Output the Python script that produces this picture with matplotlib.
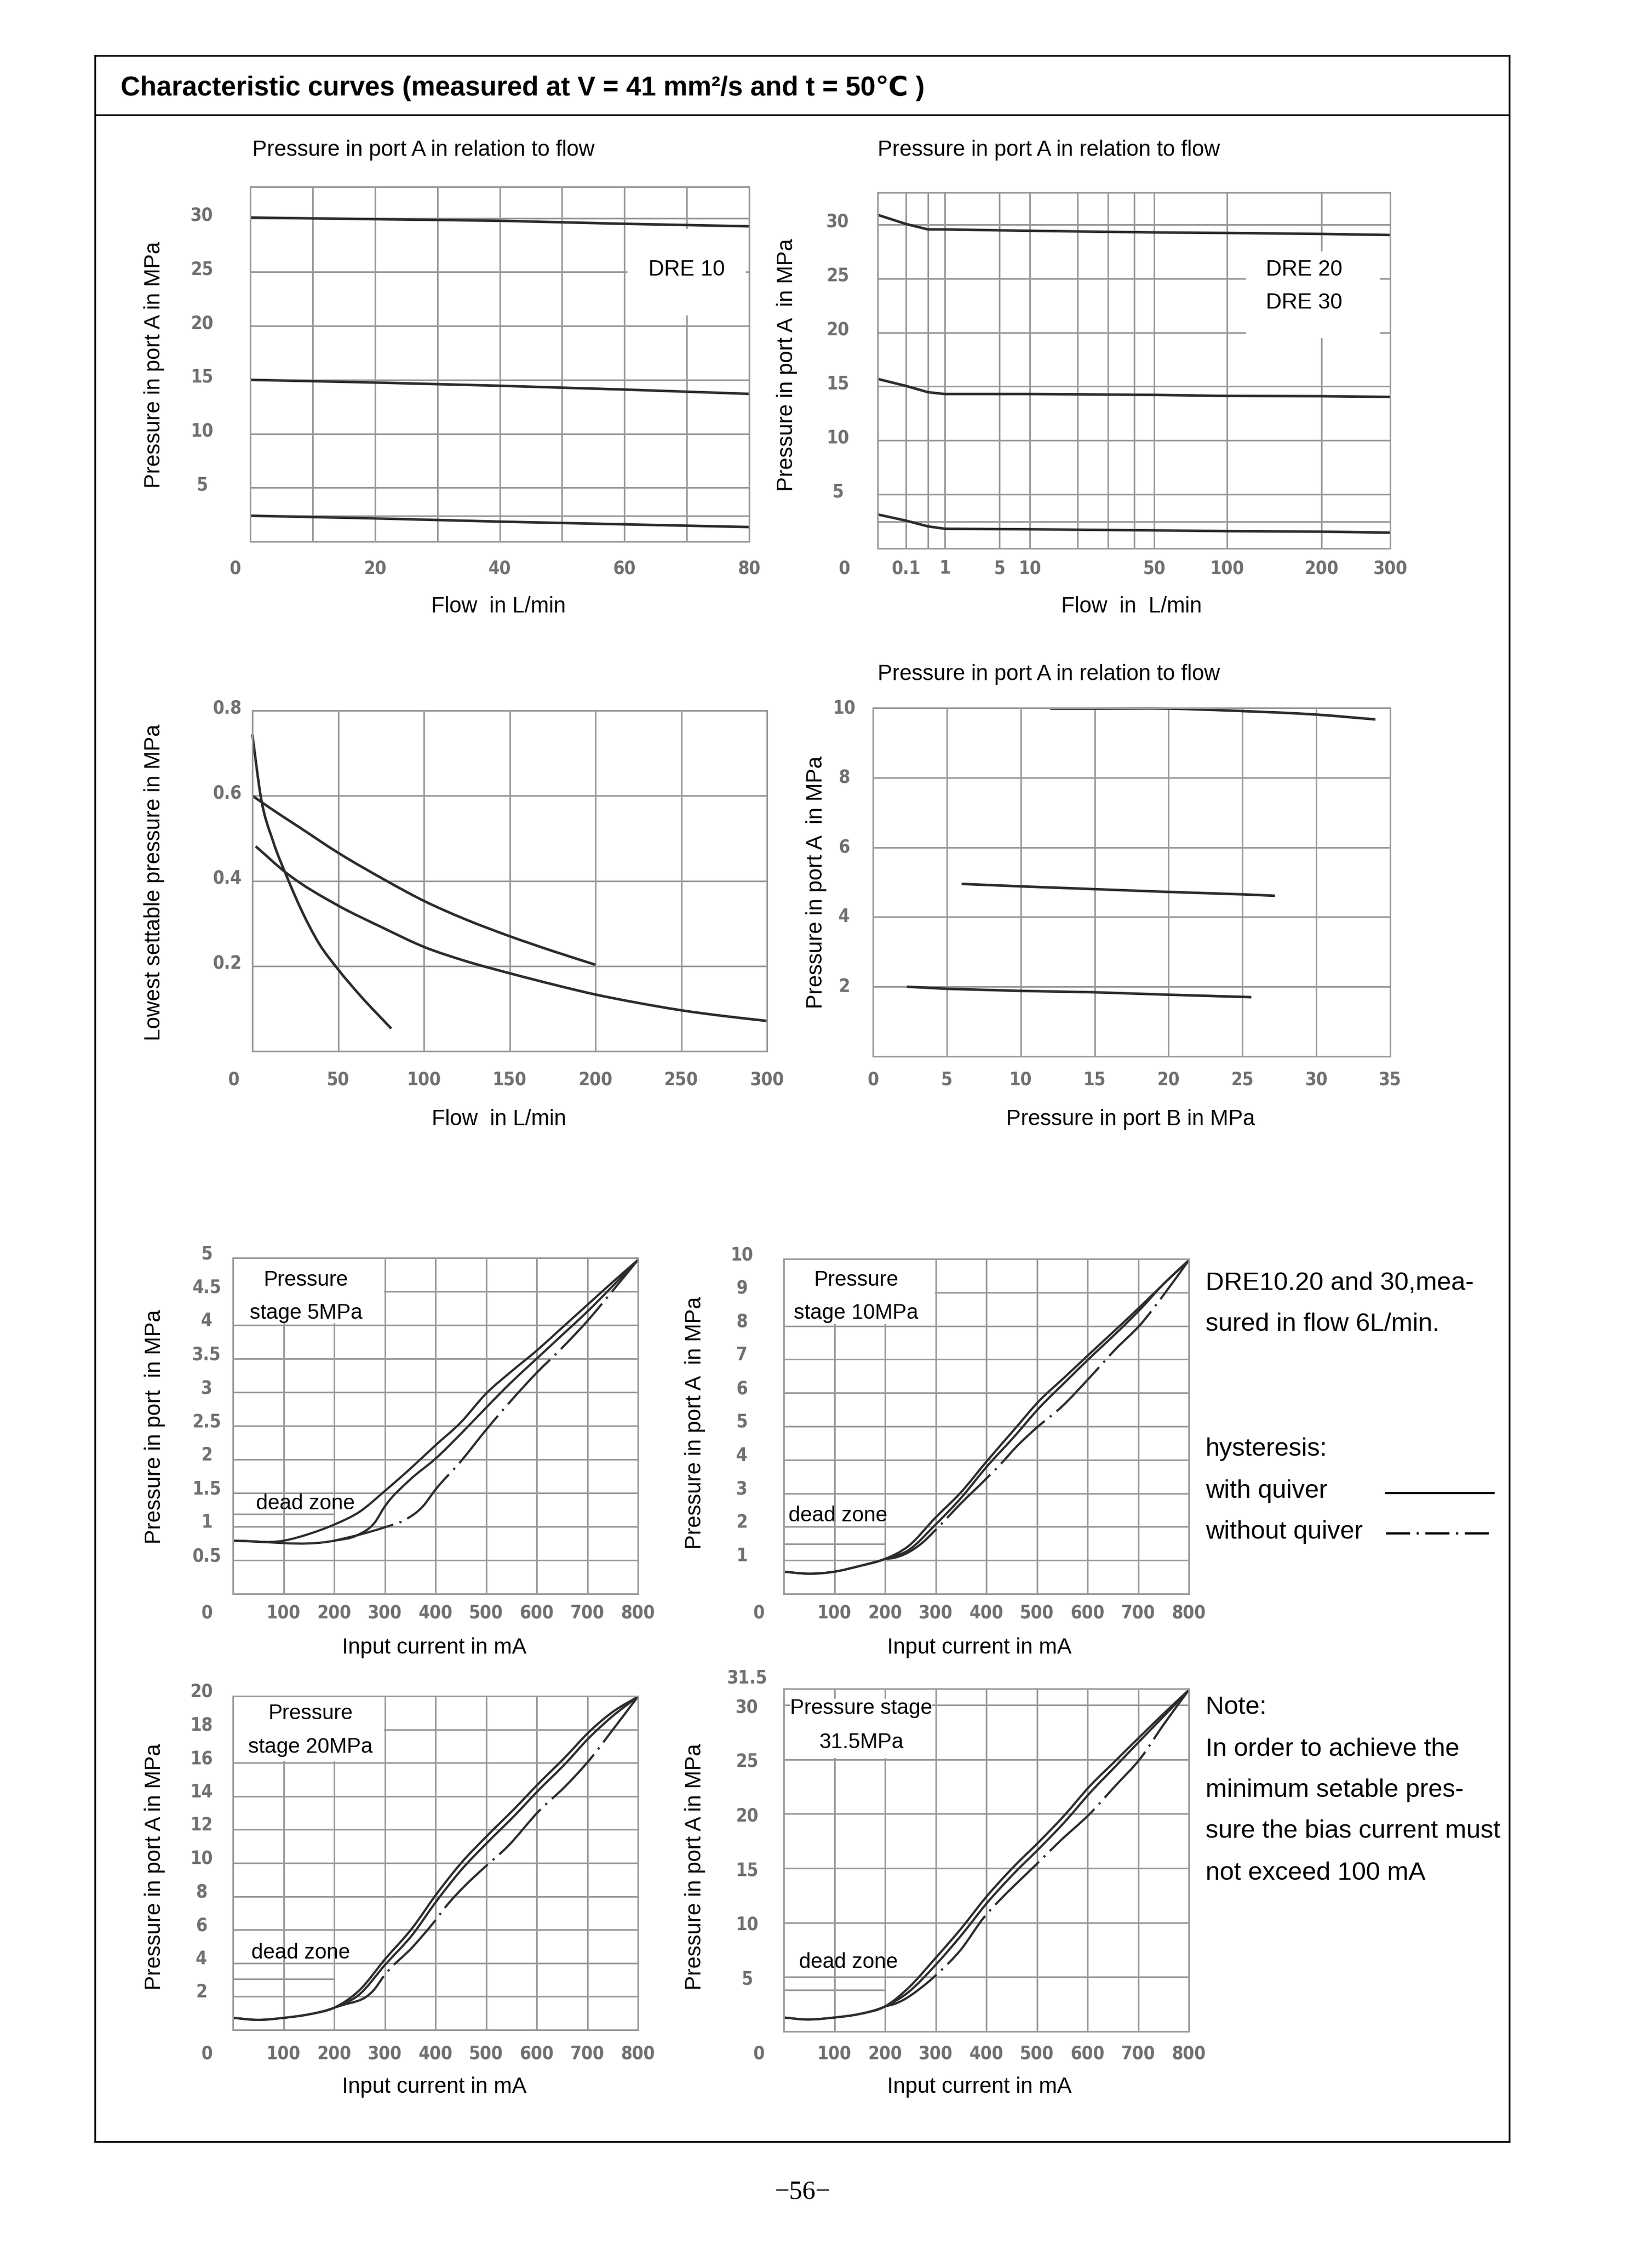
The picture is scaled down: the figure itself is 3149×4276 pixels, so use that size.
import numpy as np
import matplotlib
matplotlib.use("Agg")
import matplotlib.pyplot as plt
import matplotlib.transforms as mtransforms
from matplotlib import font_manager
from matplotlib.lines import Line2D
from matplotlib.patches import Rectangle, PathPatch
from matplotlib.path import Path

W, H, DPI = 3149, 4276, 100

# ---------------- values ----------------
# DRE 10: pressure in port A vs flow, three settings
dre10_flow = [0, 20, 40, 60, 80]
dre10_p30 = [30.05, 29.9, 29.75, 29.47, 29.24]
dre10_p15 = [15.0, 14.75, 14.45, 14.1, 13.7]
dre10_p2 = [2.4, 2.15, 1.85, 1.6, 1.35]

# DRE 20 / DRE 30
dre20_flow = [0, 0.1, 0.5, 1, 10, 50, 100, 200, 300]
dre20_p30 = [30.9, 30.05, 29.55, 29.55, 29.42, 29.27, 29.22, 29.13, 29.03]
dre20_p15 = [15.7, 15.05, 14.47, 14.3, 14.3, 14.22, 14.12, 14.1, 14.03]
dre20_p2 = [3.15, 2.57, 2.04, 1.82, 1.77, 1.67, 1.6, 1.55, 1.46]

# lowest settable pressure vs flow
low_a_flow = [0, 5, 12, 20, 29, 39, 50, 63, 81]
low_a_p = [0.744, 0.596, 0.494, 0.411, 0.328, 0.252, 0.192, 0.13, 0.053]
low_b_flow = [0, 10, 27, 50, 76, 100, 124, 150, 176, 200]
low_b_p = [0.6, 0.572, 0.527, 0.466, 0.405, 0.353, 0.31, 0.27, 0.234, 0.203]
low_c_flow = [2, 20, 50, 76, 100, 124, 150, 176, 200, 224, 250, 276, 300]
low_c_p = [0.481, 0.418, 0.342, 0.29, 0.245, 0.212, 0.183, 0.156, 0.133,
           0.114, 0.096, 0.082, 0.071]

# pressure in port A vs pressure in port B
pb_hi = [12, 15, 20, 25, 30, 34]
pa_hi = [9.98, 9.98, 9.98, 9.91, 9.81, 9.67]
pb_mid = [6, 10, 15, 20, 25, 27.2]
pa_mid = [4.95, 4.88, 4.8, 4.72, 4.65, 4.61]
pb_lo = [2.3, 5, 10, 15, 20, 25.6]
pa_lo = [2.0, 1.94, 1.88, 1.84, 1.77, 1.70]

# hysteresis, pressure stage 5 MPa (input current in mA)
s5_up_i = [0, 100, 150, 200, 250, 300, 350, 400, 450, 500, 550, 600, 650, 700, 750, 800]
s5_up_p = [0.79, 0.79, 0.89, 1.03, 1.22, 1.53, 1.86, 2.21, 2.55, 2.98, 3.31, 3.62, 3.96, 4.30, 4.64, 4.97]
s5_mid_i = [0, 200, 245, 280, 300, 350, 400, 450, 500, 550, 600, 650, 700, 750, 800]
s5_mid_p = [0.79, 0.79, 0.87, 1.06, 1.30, 1.70, 2.01, 2.38, 2.77, 3.15, 3.50, 3.85, 4.20, 4.58, 4.97]
s5_dd_i = [200, 255, 300, 340, 375, 400, 450, 500, 550, 600, 650, 700, 750, 800]
s5_dd_p = [0.79, 0.89, 0.99, 1.10, 1.30, 1.55, 1.97, 2.44, 2.88, 3.29, 3.66, 4.06, 4.51, 4.97]

# pressure stage 10 MPa
s10_i = [0, 50, 100, 150, 200, 245, 300, 350, 400, 455, 505, 555, 605, 655, 705, 750, 800]
s10_up_p = [0.66, 0.6, 0.66, 0.83, 1.04, 1.41, 2.28, 3.03, 3.94, 4.90, 5.77, 6.47, 7.18, 7.88, 8.59, 9.25, 9.96]
s10_mid_p = [0.66, 0.6, 0.66, 0.83, 1.04, 1.29, 2.07, 2.86, 3.78, 4.69, 5.56, 6.31, 7.05, 7.76, 8.51, 9.25, 9.96]
s10_dd_i = [200, 220, 275, 300, 350, 400, 430, 460, 495, 550, 605, 655, 705, 750, 800]
s10_dd_p = [1.04, 1.08, 1.54, 1.91, 2.70, 3.44, 3.90, 4.40, 4.90, 5.60, 6.47, 7.30, 8.05, 8.92, 9.96]

# pressure stage 20 MPa
s20_i = [0, 50, 100, 150, 200, 250, 300, 355, 400, 450, 505, 555, 605, 655, 705, 750, 800]
s20_up_p = [0.72, 0.6, 0.72, 0.93, 1.33, 2.38, 4.22, 6.13, 8.05, 9.97, 11.72, 13.22, 14.8, 16.3, 17.9, 19.05, 19.97]
s20_mid_p = [0.72, 0.6, 0.72, 0.93, 1.33, 2.13, 3.88, 5.72, 7.63, 9.55, 11.3, 12.8, 14.4, 15.9, 17.55, 18.8, 19.97]
s20_dd_i = [200, 215, 278, 300, 355, 395, 425, 458, 493, 542, 605, 655, 705, 750, 800]
s20_dd_p = [1.33, 1.47, 2.38, 3.3, 4.97, 6.38, 7.55, 8.63, 9.63, 10.97, 13.13, 14.55, 16.2, 17.97, 19.97]

# pressure stage 31.5 MPa
s31_i = [0, 45, 100, 150, 200, 245, 300, 350, 400, 455, 505, 555, 605, 655, 705, 750, 800]
s31_up_p = [1.28, 1.1, 1.28, 1.61, 2.30, 3.95, 6.76, 9.44, 12.37, 15.18, 17.47, 19.9, 22.58, 24.87, 27.17, 29.2, 31.38]
s31_mid_p = [1.28, 1.1, 1.28, 1.61, 2.30, 3.57, 6.12, 8.8, 11.73, 14.54, 16.84, 19.26, 21.94, 24.36, 26.79, 28.95, 31.38]
s31_dd_i = [200, 220, 280, 305, 350, 395, 425, 455, 495, 545, 605, 655, 705, 750, 800]
s31_dd_p = [2.30, 2.55, 4.34, 5.36, 7.53, 10.46, 12.0, 13.39, 15.18, 17.47, 20.03, 22.58, 25.13, 28.19, 31.38]

# dead zone marker level per stage (drawn from 0 to 200 mA)
dead_zone = [1.19, 1.49, 3.05, 3.83]
dead_zone_end = 200

# tick labels
cur_ticks = [0, 100, 200, 300, 400, 500, 600, 700, 800]
flow80_ticks = [0, 20, 40, 60, 80]
flow300_ticks = [0, 0.1, 1, 5, 10, 50, 100, 200, 300]
flow300_labels = ["0", "0.1", "1", "5", "10", "50", "100", "200", "300"]
low_flow_ticks = [0, 50, 100, 150, 200, 250, 300]
pb_ticks = [0, 5, 10, 15, 20, 25, 30, 35]
p30_ticks = [5, 10, 15, 20, 25, 30]
low_p_ticks = [0.2, 0.4, 0.6, 0.8]
pa10_ticks = [2, 4, 6, 8, 10]
s5_ticks = [0.5, 1, 1.5, 2, 2.5, 3, 3.5, 4, 4.5, 5]
s10_ticks = [1, 2, 3, 4, 5, 6, 7, 8, 9, 10]
s20_ticks = [2, 4, 6, 8, 10, 12, 14, 16, 18, 20]
s31_ticks = [5, 10, 15, 20, 25, 30, 31.5]

# ---------------- styling ----------------
plt.rcParams["font.family"] = ["Liberation Sans", "DejaVu Sans"]
GRID = "#9a9a9a"
GRID_LW = 2.2
INK = "#2c2c2c"
DASHDOT = (0, (28, 3, 1, 3))

names = {f.name for f in font_manager.fontManager.ttflist}
if "Liberation Sans Narrow" in names:
    TICK = dict(family="Liberation Sans Narrow", fontsize=27, color="#707070", weight="bold")
else:
    TICK = dict(family="DejaVu Sans", stretch="condensed", fontsize=25, color="#707070", weight="bold")

fig = plt.figure(figsize=(W / DPI, H / DPI), dpi=DPI)
fig.patch.set_facecolor("white")


def fx(x):
    return x / W


def fy(y):
    return 1 - y / H


def put(x, y, s, size=30, ha="center", va="center", **kw):
    fig.text(fx(x), fy(y), s, fontsize=size, ha=ha, va=va, **kw)


def panel(box, xlim, ylim, xgrid, ygrid, xscale=None):
    l, t, r, b = box
    ax = fig.add_axes([l / W, 1 - b / H, (r - l) / W, (b - t) / H])
    if xscale is not None:
        ax.set_xscale("function", functions=xscale)
    ax.set_xlim(*xlim)
    ax.set_ylim(*ylim)
    ax.set_xticks(xgrid)
    ax.set_yticks(ygrid)
    ax.tick_params(length=0, labelbottom=False, labelleft=False)
    ax.grid(True, color=GRID, lw=GRID_LW)
    ax.set_axisbelow(True)
    for sp in ax.spines.values():
        sp.set_color(GRID)
        sp.set_linewidth(GRID_LW)
    return ax


def xnums(ax, vals, texts, dy, zero_dx=0):
    base = mtransforms.blended_transform_factory(ax.transData, ax.transAxes)
    for v, s in zip(vals, texts):
        dx = -zero_dx if v == 0 else 0
        tr = mtransforms.offset_copy(base, fig=fig, x=dx / DPI, y=-dy / DPI, units="inches")
        ax.text(v, 0, s, transform=tr, ha="center", va="center", clip_on=False, **TICK)


def ynums(ax, vals, texts, dx, lift=0):
    base = mtransforms.blended_transform_factory(ax.transAxes, ax.transData)
    for v, s in zip(vals, texts):
        tr = mtransforms.offset_copy(base, fig=fig, x=-dx / DPI, y=lift / DPI, units="inches")
        ax.text(0, v, s, transform=tr, ha="center", va="center", clip_on=False, **TICK)


def mask(ax, x0, x1, y0, y1):
    ax.add_patch(Rectangle((x0, y0), x1 - x0, y1 - y0, fc="white", ec="none", zorder=1))


def curve(ax, x, y, lw=3.5, ls="-", smooth=False):
    if not smooth:
        ax.plot(x, y, color=INK, lw=lw, ls=ls, zorder=2, clip_on=False,
                solid_capstyle="butt", dash_capstyle="butt")
        return
    # cubic Hermite through the read points, drawn as Bezier segments
    x = np.asarray(x, float)
    y = np.asarray(y, float)
    m = np.gradient(y, x)
    verts = [(x[0], y[0])]
    codes = [Path.MOVETO]
    for i in range(len(x) - 1):
        h = x[i + 1] - x[i]
        verts += [(x[i] + h / 3, y[i] + m[i] * h / 3),
                  (x[i + 1] - h / 3, y[i + 1] - m[i + 1] * h / 3),
                  (x[i + 1], y[i + 1])]
        codes += [Path.CURVE4] * 3
    ax.add_patch(PathPatch(Path(verts, codes), fill=False, ec=INK, lw=lw, ls=ls,
                           zorder=2, clip_on=False, capstyle="butt"))


def fmt(v):
    return "%g" % v


# ---------------- page frame ----------------
L, R, T, B = 181, 2877, 106, 4081
for xs, ys in [((L, R), (T, T)), ((L, R), (B, B)), ((L, L), (T, B)),
               ((R, R), (T, B)), ((L, R), (219, 219))]:
    fig.add_artist(Line2D([fx(v) for v in xs], [fy(v) for v in ys],
                          color="black", lw=2.4, solid_capstyle="projecting"))
put(230, 168, "Characteristic curves (measured at V = 41 mm\u00b2/s and t = 50\u2103 )",
    size=37, ha="left", weight="bold")
put(1530, 4177, "\u221256\u2212", size=36, family="Liberation Serif")

# ---------------- 1: DRE 10 ----------------
ax = panel((477, 356, 1428, 1032), (0, 80), (0, 32.9),
           [10, 20, 30, 40, 50, 60, 70], [2.4, 5, 10, 15, 20, 25, 30])
mask(ax, 60.5, 79.5, 21, 29)
for p in (dre10_p30, dre10_p15, dre10_p2):
    curve(ax, dre10_flow, p)
xnums(ax, flow80_ticks, [fmt(v) for v in flow80_ticks], 51, zero_dx=29)
ynums(ax, p30_ticks, [fmt(v) for v in p30_ticks], 92, lift=5)
put(481, 286, "Pressure in port A in relation to flow", ha="left")
put(294, 695, "Pressure in port A in MPa", rotation=90)
put(950, 1156, "Flow  in L/min")
put(1309, 514, "DRE 10")

# ---------------- 2: DRE 20 / 30 (stretched flow axis) ----------------
flow_marks = [0, 0.1, 0.5, 1, 5, 10, 20, 30, 40, 50, 100, 200, 300]
mark_px = [0, 54, 96, 128, 232, 290, 381, 439, 489, 527, 666, 846, 977]
flow_scale = (lambda v: np.interp(v, flow_marks, mark_px),
              lambda u: np.interp(u, mark_px, flow_marks))
ax = panel((1673, 367, 2650, 1045), (0, 300), (0, 32.96),
           flow_marks[1:-1], [2.5, 5, 10, 15, 20, 25, 30], xscale=flow_scale)
mask(ax, 120, 285, 19.5, 27.5)
for p in (dre20_p30, dre20_p15, dre20_p2):
    curve(ax, dre20_flow, p)
xnums(ax, flow300_ticks, flow300_labels, 38, zero_dx=64)
ynums(ax, p30_ticks, [fmt(v) for v in p30_ticks], 76, lift=5)
put(1673, 286, "Pressure in port A in relation to flow", ha="left")
put(1500, 695, "Pressure in port A  in MPa", rotation=90)
put(2157, 1156, "Flow  in  L/min")
put(2486, 514, "DRE 20")
put(2486, 577, "DRE 30")

# ---------------- 3: lowest settable pressure ----------------
ax = panel((481, 1354, 1462, 2003), (0, 300), (0, 0.8),
           [50, 100, 150, 200, 250], [0.2, 0.4, 0.6])
curve(ax, low_a_flow, low_a_p, smooth=True)
curve(ax, low_b_flow, low_b_p, smooth=True)
curve(ax, low_c_flow, low_c_p, smooth=True)
xnums(ax, low_flow_ticks, [fmt(v) for v in low_flow_ticks], 54, zero_dx=36)
ynums(ax, low_p_ticks, [fmt(v) for v in low_p_ticks], 48, lift=5)
put(294, 1681, "Lowest settable pressure in MPa", rotation=90)
put(951, 2133, "Flow  in L/min")

# ---------------- 4: port A vs port B ----------------
ax = panel((1664, 1349, 2650, 2013), (0, 35), (0, 10),
           [5, 10, 15, 20, 25, 30], [2, 4, 6, 8])
curve(ax, pb_hi, pa_hi, smooth=True)
curve(ax, pb_mid, pa_mid)
curve(ax, pb_lo, pa_lo)
xnums(ax, pb_ticks, [fmt(v) for v in pb_ticks], 44)
ynums(ax, pa10_ticks, [fmt(v) for v in pa10_ticks], 55)
put(1673, 1285, "Pressure in port A in relation to flow", ha="left")
put(1556, 1681, "Pressure in port A  in MPa", rotation=90)
put(2155, 2133, "Pressure in port B in MPa")

# ---------------- 5-8: hysteresis ----------------
cur_labels = [fmt(v) for v in cur_ticks]
cur_grid = [100, 200, 300, 400, 500, 600, 700]

ax = panel((444, 2397, 1216, 3037), (0, 800), (0, 5), cur_grid, s5_ticks[:-1])
ax.hlines(dead_zone[0], 0, dead_zone_end, color=GRID, lw=GRID_LW, zorder=0.6)
mask(ax, 0, 298, 4.03, 5)
curve(ax, s5_up_i, s5_up_p, lw=3, smooth=True)
curve(ax, s5_mid_i, s5_mid_p, lw=3, smooth=True)
curve(ax, s5_dd_i, s5_dd_p, lw=3, ls=DASHDOT, smooth=True)
xnums(ax, cur_ticks, cur_labels, 37, zero_dx=50)
ynums(ax, s5_ticks, [fmt(v) for v in s5_ticks], 50, lift=8)
put(583, 2439, "Pressure", size=29)
put(583, 2502, "stage 5MPa", size=29)
put(582, 2865, "dead zone", size=29)
put(295, 2719, "Pressure in port  in MPa", rotation=90)
put(828, 3140, "Input current in mA")

ax = panel((1494, 2399, 2266, 3037), (0, 800), (0, 10), cur_grid, s10_ticks[:-1])
ax.hlines(dead_zone[1], 0, dead_zone_end, color=GRID, lw=GRID_LW, zorder=0.6)
mask(ax, 0, 298, 8.05, 10)
curve(ax, s10_i, s10_up_p, lw=3, smooth=True)
curve(ax, s10_i, s10_mid_p, lw=3, smooth=True)
curve(ax, s10_dd_i, s10_dd_p, lw=3, ls=DASHDOT, smooth=True)
xnums(ax, cur_ticks, cur_labels, 37, zero_dx=48)
ynums(ax, s10_ticks, [fmt(v) for v in s10_ticks], 80, lift=8)
put(1632, 2439, "Pressure", size=29)
put(1632, 2502, "stage 10MPa", size=29)
put(1597, 2888, "dead zone", size=29)
put(1325, 2711, "Pressure in port A  in MPa", rotation=90)
put(1867, 3140, "Input current in mA")

ax = panel((444, 3232, 1216, 3868), (0, 800), (0, 20), cur_grid, s20_ticks[:-1])
ax.hlines(dead_zone[2], 0, dead_zone_end, color=GRID, lw=GRID_LW, zorder=0.6)
mask(ax, 0, 298, 16.1, 20)
curve(ax, s20_i, s20_up_p, lw=3, smooth=True)
curve(ax, s20_i, s20_mid_p, lw=3, smooth=True)
curve(ax, s20_dd_i, s20_dd_p, lw=3, ls=DASHDOT, smooth=True)
xnums(ax, cur_ticks, cur_labels, 46, zero_dx=50)
ynums(ax, s20_ticks, [fmt(v) for v in s20_ticks], 60, lift=8)
put(592, 3265, "Pressure", size=29)
put(592, 3329, "stage 20MPa", size=29)
put(573, 3721, "dead zone", size=29)
put(295, 3557, "Pressure in port A in MPa", rotation=90)
put(828, 3977, "Input current in mA")

ax = panel((1494, 3218, 2266, 3871), (0, 800), (0, 31.5), cur_grid, s31_ticks[:-1])
ax.hlines(dead_zone[3], 0, dead_zone_end, color=GRID, lw=GRID_LW, zorder=0.6)
mask(ax, 12, 292, 25.15, 30.6)
curve(ax, s31_i, s31_up_p, lw=3, smooth=True)
curve(ax, s31_i, s31_mid_p, lw=3, smooth=True)
curve(ax, s31_dd_i, s31_dd_p, lw=3, ls=DASHDOT, smooth=True)
xnums(ax, cur_ticks, cur_labels, 43, zero_dx=48)
ynums(ax, s31_ticks[:-1], [fmt(v) for v in s31_ticks[:-1]], 70, lift=-4)
ynums(ax, s31_ticks[-1:], [fmt(v) for v in s31_ticks[-1:]], 70, lift=20)
put(1642, 3255, "Pressure stage", size=29)
put(1642, 3320, "31.5MPa", size=29)
put(1617, 3739, "dead zone", size=29)
put(1325, 3557, "Pressure in port A in MPa", rotation=90)
put(1867, 3977, "Input current in mA")

# ---------------- side notes ----------------
side = [("DRE10.20 and 30,mea-", 2445), ("sured in flow 6L/min.", 2524),
        ("hysteresis:", 2762), ("with quiver", 2841), ("without quiver", 2920),
        ("Note:", 3254), ("In order to achieve the", 3334),
        ("minimum setable pres-", 3411), ("sure the bias current must", 3490),
        ("not exceed 100 mA", 3569)]
for s, y in side:
    put(2298, y, s, size=35, ha="left")
fig.add_artist(Line2D([fx(2642), fx(2847)], [fy(2845), fy(2845)], color="black", lw=3))
fig.add_artist(Line2D([fx(2642), fx(2847)], [fy(2922), fy(2922)], color="black", lw=3,
                      ls=(0, (11, 3, 1, 3))))

fig.savefig("out.png", dpi=DPI, facecolor="white")
